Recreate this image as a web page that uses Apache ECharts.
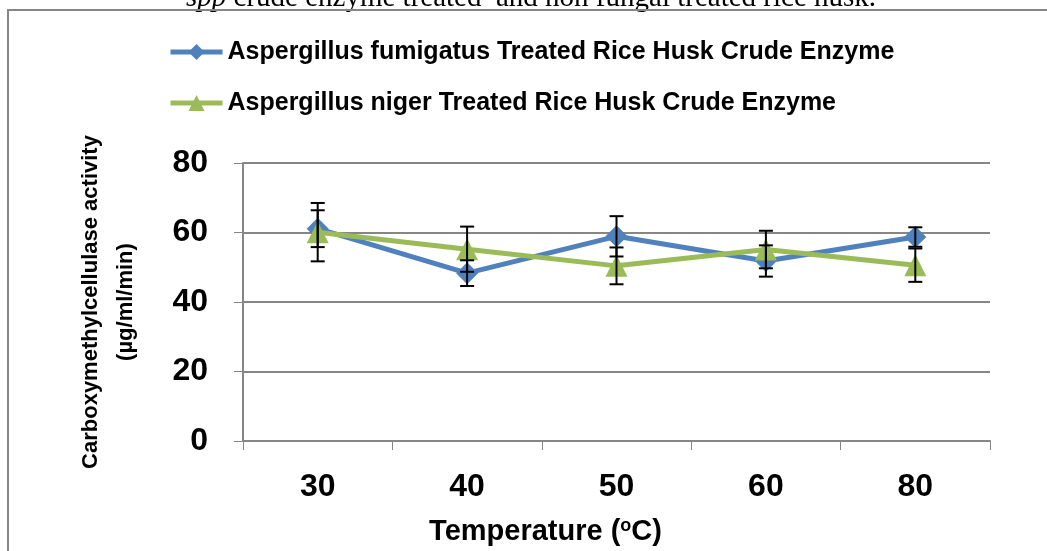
<!DOCTYPE html>
<html>
<head>
<meta charset="utf-8">
<script src="https://cdn.jsdelivr.net/npm/echarts@6/dist/echarts.min.js"></script>
<style>
  html, body { margin: 0; padding: 0; background: #fff; }
  #main { width: 1047px; height: 551px; }
</style>
</head>
<body>
<div id="main"></div>
<script>
// temperature categories (x axis)
var temps = ['30', '40', '50', '60', '80'];
// Aspergillus fumigatus treated rice husk crude enzyme
var fumigatus = [61.1, 48.3, 58.9, 51.8, 58.7];
var fumigatusErr = [5.3, 3.7, 5.8, 4.5, 2.8];
// Aspergillus niger treated rice husk crude enzyme
var niger = [60.1, 55.2, 50.4, 55.1, 50.6];
var nigerErr = [8.4, 6.5, 5.3, 5.4, 4.8];
var yTicks = [0, 20, 40, 60, 80];

var font = "'Liberation Sans', Arial, sans-serif";

function errData(vals, errs) {
    return vals.map(function (v, i) { return [i, v - errs[i], v + errs[i]]; });
}

function renderErr(params, api) {
    var lo = api.coord([api.value(0), api.value(1)]);
    var hi = api.coord([api.value(0), api.value(2)]);
    var w = 7;
    var st = { stroke: '#000', lineWidth: 2 };
    return {
        type: 'group',
        children: [
            { type: 'line', shape: { x1: lo[0], y1: lo[1], x2: hi[0], y2: hi[1] }, style: st },
            { type: 'line', shape: { x1: lo[0] - w, y1: lo[1], x2: lo[0] + w, y2: lo[1] }, style: st },
            { type: 'line', shape: { x1: hi[0] - w, y1: hi[1], x2: hi[0] + w, y2: hi[1] }, style: st }
        ]
    };
}

var myChart = echarts.init(document.getElementById('main'));

var option = {
    animation: false,
    backgroundColor: '#fff',
    graphic: [
        {
            type: 'text', left: 186, top: -16, z: 1,
            style: {
                text: '{i|spp} crude enzyme treated  and non fungal treated rice husk.',
                font: "29px 'Liberation Serif', serif", fill: '#000',
                rich: { i: { fontStyle: 'italic', fontFamily: 'Liberation Serif', fontSize: 29 } }
            }
        },
        {
            type: 'rect', z: 10, silent: true,
            shape: { x: 8, y: 10, width: 1100, height: 600 },
            style: { fill: 'none', stroke: '#868686', lineWidth: 2 }
        }
    ],
    legend: {
        orient: 'vertical',
        left: 168, top: 37, padding: 0,
        itemWidth: 52, itemHeight: 20, itemGap: 21,
        lineStyle: { width: 5 },
        data: ['Aspergillus fumigatus Treated Rice Husk Crude Enzyme', 'Aspergillus niger Treated Rice Husk Crude Enzyme'],
        textStyle: { fontFamily: font, fontWeight: 'bold', fontSize: 25, color: '#000', lineHeight: 30 }
    },
    grid: { left: 243, right: 57, top: 163, bottom: 108 },
    xAxis: {
        type: 'category',
        data: temps,
        boundaryGap: true,
        axisLine: { lineStyle: { color: '#868686', width: 2 } },
        axisTick: { show: true, length: 9, lineStyle: { color: '#868686', width: 1 } },
        axisLabel: { margin: 30, color: '#000', fontFamily: font, fontWeight: 'bold', fontSize: 32 },
        name: 'Temperature ({s|o}C)',
        nameLocation: 'middle',
        nameGap: 76,
        nameTextStyle: {
            color: '#000', fontFamily: font, fontWeight: 'bold', fontSize: 29,
            padding: [0, 142, 0, 0],
            rich: { s: { fontFamily: font, fontWeight: 'bold', fontSize: 18, verticalAlign: 'top', padding: [0, 0, 10, 0] } }
        }
    },
    yAxis: {
        type: 'value',
        min: yTicks[0], max: yTicks[yTicks.length - 1], interval: 20,
        axisLine: { show: true, lineStyle: { color: '#868686', width: 2 } },
        axisTick: { show: true, length: 9, lineStyle: { color: '#868686', width: 1 } },
        splitLine: { lineStyle: { color: '#868686', width: 2 } },
        axisLabel: { margin: 35, color: '#000', fontFamily: font, fontWeight: 'bold', fontSize: 32 },
        name: 'Carboxymethylcellulase activity\n(µg/ml/min)',
        nameLocation: 'middle',
        nameRotate: 90,
        nameGap: 100,
        nameTextStyle: { color: '#000', fontFamily: font, fontWeight: 'bold', fontSize: 22, lineHeight: 35, align: 'center' }
    },
    series: [
        {
            name: 'Aspergillus fumigatus Treated Rice Husk Crude Enzyme',
            type: 'line',
            data: fumigatus,
            symbol: 'diamond', symbolSize: 22,
            lineStyle: { color: '#4F81BD', width: 5 },
            itemStyle: { color: '#4F81BD' },
            z: 2
        },
        {
            name: 'Aspergillus niger Treated Rice Husk Crude Enzyme',
            type: 'line',
            data: niger,
            symbol: 'triangle', symbolSize: 22,
            lineStyle: { color: '#9BBB59', width: 5 },
            itemStyle: { color: '#9BBB59' },
            z: 3
        },
        {
            type: 'custom', renderItem: renderErr, data: errData(fumigatus, fumigatusErr),
            encode: { x: 0, y: [1, 2] }, z: 4, silent: true
        },
        {
            type: 'custom', renderItem: renderErr, data: errData(niger, nigerErr),
            encode: { x: 0, y: [1, 2] }, z: 4, silent: true
        }
    ]
};

option && myChart.setOption(option);
</script>
</body>
</html>
